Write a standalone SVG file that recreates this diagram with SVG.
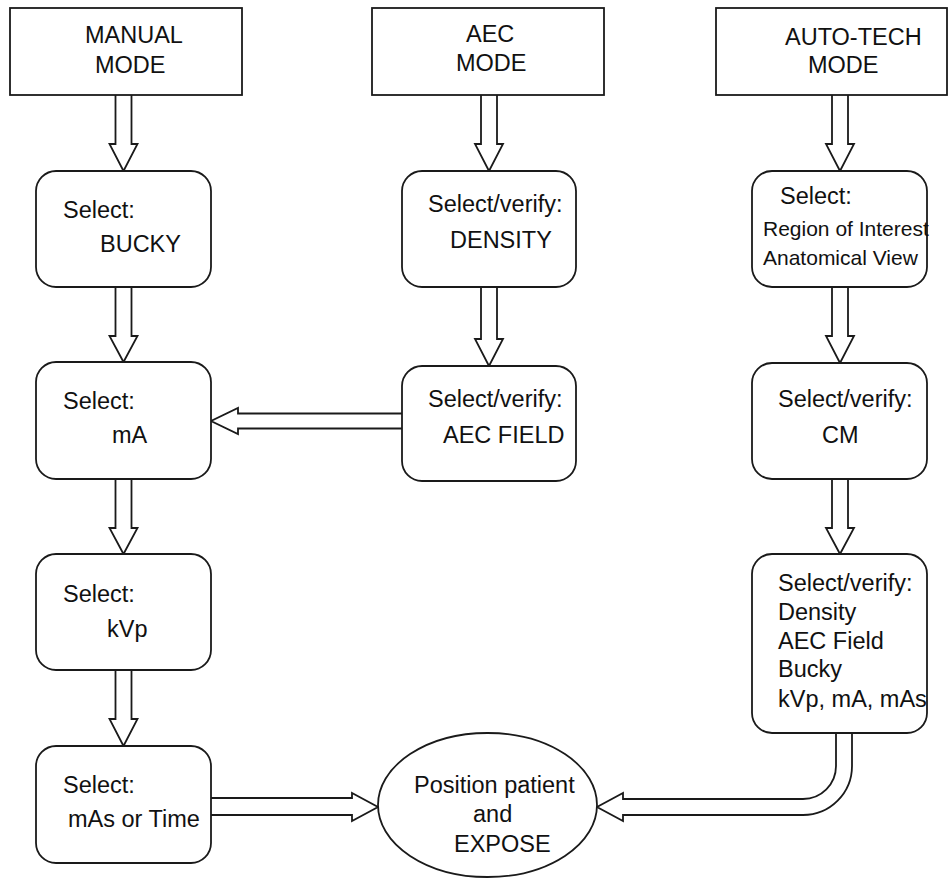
<svg xmlns="http://www.w3.org/2000/svg" width="948" height="879" viewBox="0 0 948 879">
<style>
.box{fill:#fff;stroke:#1a1a1a;stroke-width:1.8}
.arr{fill:#fff;stroke:#1a1a1a;stroke-width:1.8;stroke-linejoin:miter}
text{font-family:"Liberation Sans",Arial,sans-serif;font-size:23.5px;fill:#111}
.sm{font-size:21px}
</style>
<rect width="948" height="879" fill="#fff"/>
<g id="connectors">
<path class="arr" d="M115.5 95 V144 H109.5 L123.5 171 L137.5 144 H131.5 V95"/>
<path class="arr" d="M115.5 287 V336 H109.5 L123.5 362 L137.5 336 H131.5 V287"/>
<path class="arr" d="M115.5 479 V528 H109.5 L123.5 554 L137.5 528 H131.5 V479"/>
<path class="arr" d="M115.5 670 V719 H109.5 L123.5 746 L137.5 719 H131.5 V670"/>
<path class="arr" d="M481 95 V144 H475 L489 171 L503 144 H497 V95"/>
<path class="arr" d="M481 287 V339 H475 L489 366 L503 339 H497 V287"/>
<path class="arr" d="M832 95 V144 H826 L840 171 L854 144 H848 V95"/>
<path class="arr" d="M832 287 V336 H826 L840 363 L854 336 H848 V287"/>
<path class="arr" d="M832 479 V528 H826 L840 554 L854 528 H848 V479"/>
<path class="arr" d="M402 413.5 H238 V408 L211 421 L238 434 V428.5 H402"/>
<path class="arr" d="M211 798 H352 V793 L378 807 L352 821 V815 H211"/>
<path class="arr" d="M836 733 V766 A33 33 0 0 1 803 799 H623 V793 L597 807 L623 821 V815 H803 A49 49 0 0 0 852 766 V733"/>
</g>
<g id="manual-mode"><rect class="box" x="10" y="8" width="232" height="87"/><text x="85" y="43">MANUAL</text><text x="95" y="73">MODE</text></g>
<g id="aec-mode"><rect class="box" x="372" y="8" width="232" height="87"/><text x="466" y="42">AEC</text><text x="456" y="71">MODE</text></g>
<g id="autotech-mode"><rect class="box" x="716" y="8" width="231" height="87"/><text x="785" y="45">AUTO-TECH</text><text x="808" y="73">MODE</text></g>
<g id="bucky"><rect class="box" x="36" y="171" width="175" height="116" rx="20"/><text x="63" y="218">Select:</text><text x="100" y="252">BUCKY</text></g>
<g id="ma"><rect class="box" x="36" y="362" width="175" height="117" rx="20"/><text x="63" y="409">Select:</text><text x="112" y="443">mA</text></g>
<g id="kvp"><rect class="box" x="36" y="554" width="175" height="116" rx="20"/><text x="63" y="602">Select:</text><text x="107" y="637">kVp</text></g>
<g id="mas"><rect class="box" x="36" y="746" width="175" height="117" rx="20"/><text x="63" y="793">Select:</text><text x="68" y="827">mAs or Time</text></g>
<g id="density"><rect class="box" x="402" y="171" width="174" height="116" rx="20"/><text x="428" y="212">Select/verify:</text><text x="450" y="248">DENSITY</text></g>
<g id="aec-field"><rect class="box" x="402" y="366" width="174" height="115" rx="20"/><text x="428" y="407">Select/verify:</text><text x="443" y="443">AEC FIELD</text></g>
<g id="roi"><rect class="box" x="752" y="171" width="175" height="116" rx="20"/><text x="780" y="204">Select:</text><text class="sm" x="763" y="236">Region of Interest</text><text class="sm" x="763" y="265">Anatomical View</text></g>
<g id="cm"><rect class="box" x="752" y="363" width="175" height="116" rx="20"/><text x="778" y="407">Select/verify:</text><text x="822" y="443">CM</text></g>
<g id="verify-all"><rect class="box" x="752" y="554" width="175" height="179" rx="20"/><text x="778" y="591">Select/verify:</text><text x="778" y="620">Density</text><text x="778" y="649">AEC Field</text><text x="778" y="677">Bucky</text><text x="778" y="707">kVp, mA, mAs</text></g>
<g id="expose"><ellipse class="box" cx="487.5" cy="805" rx="109.5" ry="72"/><text x="414" y="793">Position patient</text><text x="473" y="822">and</text><text x="454" y="852">EXPOSE</text></g>
</svg>
